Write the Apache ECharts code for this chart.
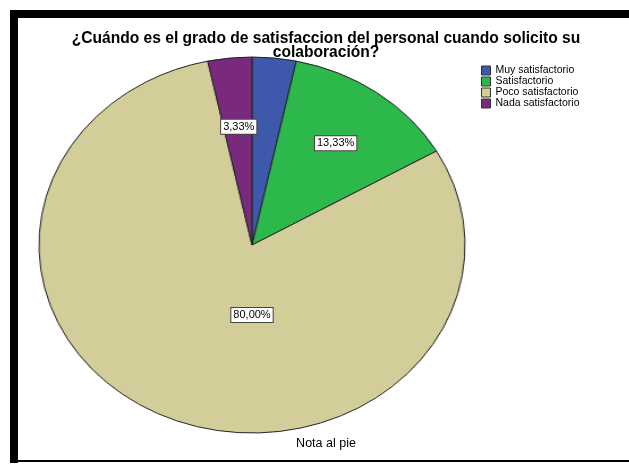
<!DOCTYPE html>
<html>
<head>
<meta charset="utf-8">
<script src="https://cdn.jsdelivr.net/npm/echarts@6/dist/echarts.min.js"></script>
<style>
  html, body { margin: 0; padding: 0; background: #fff; }
  #wrap { position: relative; width: 629px; height: 464px; overflow: hidden; background: #fff; }
  #pie { position: absolute; left: 0; top: 0; width: 629px; height: 464px;
         transform-origin: 252px 245px; transform: scaleX(1.133); }
  #top { position: absolute; left: 0; top: 0; width: 629px; height: 464px; }
</style>
</head>
<body>
<div id="wrap">
  <div id="pie"></div>
  <div id="top"></div>
</div>
<script>
const titleLines = ['¿Cuándo es el grado de satisfaccion del personal cuando solicito su', 'colaboración?'];
const categories = ['Muy satisfactorio', 'Satisfactorio', 'Poco satisfactorio', 'Nada satisfactorio'];
const counts = [1, 4, 24, 1];
const colors = ['#3e58ac', '#2db84c', '#d3ce99', '#7a2a7c'];
const showLabel = [false, true, true, true];
const footnote = 'Nota al pie';

const FONT = 'Liberation Sans, Arial, sans-serif';
const total = counts.reduce((a, b) => a + b, 0);

// Pie layer (stretched horizontally into an ellipse)
const pieChart = echarts.init(document.getElementById('pie'), null, { renderer: 'canvas' });
pieChart.setOption({
  animation: false,
  backgroundColor: 'transparent',
  series: [{
    type: 'pie',
    center: [252, 245],
    radius: 188,
    startAngle: 90,
    clockwise: true,
    silent: true,
    label: { show: false },
    labelLine: { show: false },
    itemStyle: { borderColor: '#222', borderWidth: 1 },
    data: categories.map((c, i) => ({ name: c, value: counts[i], itemStyle: { color: colors[i] } }))
  }]
});

// Top layer: text, legend, frame, labels
const topChart = echarts.init(document.getElementById('top'), null, { renderer: 'canvas' });
topChart.setOption({
  animation: false,
  backgroundColor: 'transparent',
  title: {
    text: titleLines.join('\n'),
    left: 326,
    textAlign: 'center',
    top: 32,
    padding: 0,
    textStyle: { fontFamily: FONT, fontSize: 15.6, fontWeight: 'bold', color: '#000', lineHeight: 14 }
  },
  legend: {
    orient: 'vertical',
    left: 481,
    top: 65,
    padding: 0,
    itemWidth: 9,
    itemHeight: 9,
    itemGap: 0,
    icon: 'rect',
    selectedMode: false,
    textStyle: { fontFamily: FONT, fontSize: 10.5, color: '#000', lineHeight: 11 },
    data: categories.map((c, i) => ({ name: c, itemStyle: { color: colors[i], opacity: 1, borderColor: '#333', borderWidth: 1 } }))
  },
  graphic: [
    { type: 'rect', shape: { x: 10, y: 10, width: 619, height: 8 }, style: { fill: '#000' } },
    { type: 'rect', shape: { x: 10, y: 10, width: 8, height: 453 }, style: { fill: '#000' } },
    { type: 'rect', shape: { x: 10, y: 460, width: 619, height: 2 }, style: { fill: '#000' } },
    { type: 'text', x: 326, y: 444, style: { text: footnote, font: '12.5px ' + FONT, fill: '#000', align: 'center', verticalAlign: 'middle' } }
  ],
  series: [{
    type: 'pie',
    center: [252, 245],
    radius: [60, 188],
    startAngle: 90,
    clockwise: true,
    silent: true,
    avoidLabelOverlap: false,
    labelLine: { show: false },
    itemStyle: { color: 'rgba(0,0,0,0)', borderWidth: 0 },
    label: {
      show: true,
      position: 'inside',
      formatter: p => (p.value / total * 100).toFixed(2).replace('.', ',') + '%',
      fontFamily: FONT,
      fontSize: 11,
      color: '#000',
      backgroundColor: '#fff',
      borderColor: '#444',
      borderWidth: 1,
      padding: [2, 2, 1, 2]
    },
    labelLayout: function (p) {
      if (p.dataIndex === 1) return { dx: 9, dy: 1 };
      if (p.dataIndex === 2) return { dy: 70 };
      if (p.dataIndex === 3) return { dy: 8 };
      return {};
    },
    data: categories.map((c, i) => ({
      name: c,
      value: counts[i],
      itemStyle: { color: 'rgba(0,0,0,0)' },
      label: i === 2 ? { show: showLabel[i], position: 'center' } : { show: showLabel[i] }
    }))
  }]
});
</script>
</body>
</html>
